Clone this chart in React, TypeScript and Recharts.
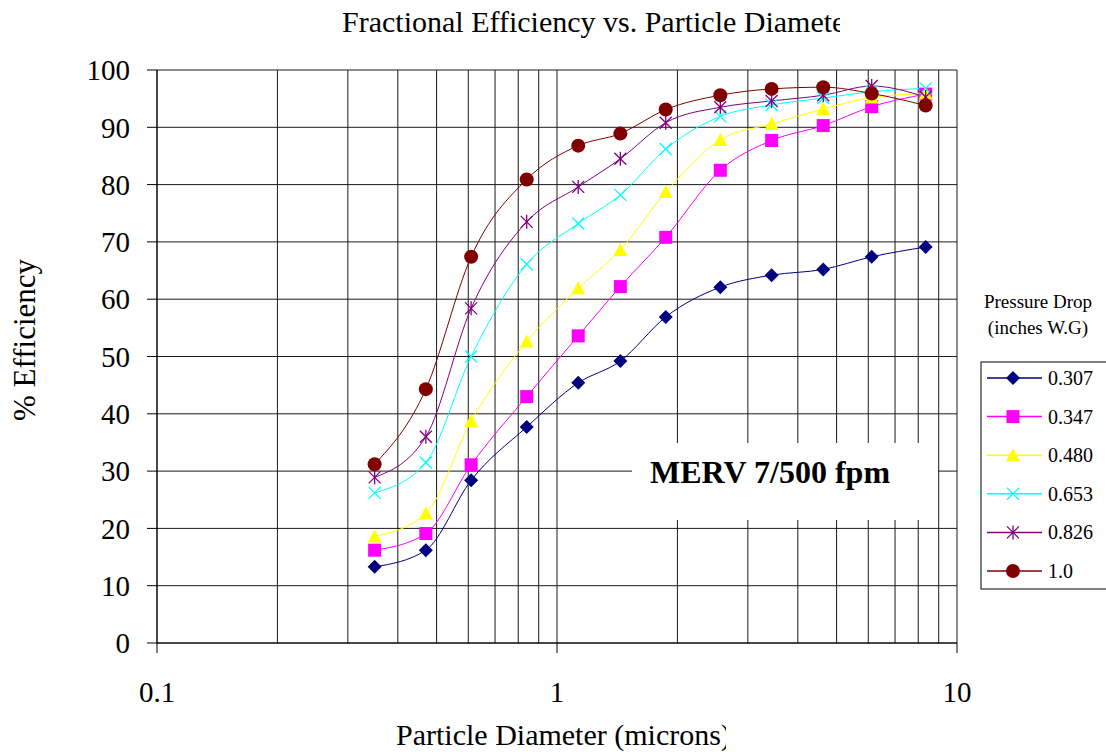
import React from 'react';
import { LineChart, Line, XAxis, YAxis, CartesianGrid } from 'recharts';

// particle size channels (microns)
const sizes = [0.35, 0.47, 0.61, 0.84, 1.13, 1.44, 1.87, 2.56, 3.44, 4.63, 6.12, 8.35];

// % efficiency per pressure drop (inches W.G)
const eff307 = [13.3, 16.2, 28.4, 37.7, 45.4, 49.2, 56.9, 62.1, 64.2, 65.2, 67.4, 69.1];
const eff347 = [16.2, 19.1, 31.1, 43.0, 53.6, 62.2, 70.8, 82.5, 87.7, 90.3, 93.6, 95.8];
const eff480 = [18.6, 22.6, 38.7, 52.6, 61.9, 68.6, 78.7, 87.8, 90.6, 93.2, 95.2, 95.9];
const eff653 = [26.2, 31.5, 50.0, 66.1, 73.2, 78.2, 86.2, 91.9, 93.9, 95.1, 96.2, 96.8];
const eff826 = [28.9, 36.0, 58.4, 73.5, 79.6, 84.5, 90.8, 93.5, 94.6, 95.6, 97.2, 95.3];
const eff100 = [31.2, 44.3, 67.4, 80.9, 86.8, 88.9, 93.1, 95.6, 96.7, 97.0, 95.9, 93.8];

const seriesNames = ['0.307', '0.347', '0.480', '0.653', '0.826', '1.0'];
const seriesColors = ['#000080', '#FF00FF', '#FFFF00', '#00FFFF', '#800080', '#800000'];
const seriesShapes = ['diamond', 'square', 'triangle', 'cross', 'star', 'circle'];
const seriesValues = [eff307, eff347, eff480, eff653, eff826, eff100];

const xTicks = [0.1, 0.2, 0.3, 0.4, 0.5, 0.6, 0.7, 0.8, 0.9, 1, 2, 3, 4, 5, 6, 7, 8, 9, 10];
const xMajor = [0.1, 1, 10];
const yTicks = [0, 10, 20, 30, 40, 50, 60, 70, 80, 90, 100];

const data = sizes.map((d, i) => {
  const row: any = { d };
  seriesNames.forEach((n, k) => { row[n] = seriesValues[k][i]; });
  return row;
});

const FONT = '"Liberation Serif", "Times New Roman", serif';

function Marker({ shape, color, cx, cy }: { shape: string; color: string; cx: number; cy: number }) {
  switch (shape) {
    case 'diamond':
      return <polygon points={`${cx},${cy - 7} ${cx + 7},${cy} ${cx},${cy + 7} ${cx - 7},${cy}`} fill={color} />;
    case 'square':
      return <rect x={cx - 6.5} y={cy - 6.5} width={13} height={13} fill={color} />;
    case 'triangle':
      return <polygon points={`${cx},${cy - 7} ${cx + 7},${cy + 6} ${cx - 7},${cy + 6}`} fill={color} />;
    case 'cross':
      return (
        <g stroke={color} strokeWidth={1.3}>
          <line x1={cx - 6} y1={cy - 6} x2={cx + 6} y2={cy + 6} />
          <line x1={cx - 6} y1={cy + 6} x2={cx + 6} y2={cy - 6} />
        </g>
      );
    case 'star':
      return (
        <g stroke={color} strokeWidth={1.3}>
          <line x1={cx - 6} y1={cy - 6} x2={cx + 6} y2={cy + 6} />
          <line x1={cx - 6} y1={cy + 6} x2={cx + 6} y2={cy - 6} />
          <line x1={cx} y1={cy - 7} x2={cx} y2={cy + 7} />
        </g>
      );
    default:
      return <circle cx={cx} cy={cy} r={7} fill={color} />;
  }
}

const XTick = (props: any) => {
  const { x, y, payload } = props;
  if (!xMajor.includes(payload.value)) return <g />;
  return (
    <g>
      <line x1={x} x2={x} y1={y} y2={y + 10} stroke="#000" />
      <text x={x} y={y + 59} textAnchor="middle" fontSize={29} fontFamily={FONT} fill="#000">
        {payload.value}
      </text>
    </g>
  );
};

export default function App() {
  return (
    <div style={{ position: 'absolute', left: 0, top: 0, width: 1106, height: 752, overflow: 'hidden', background: '#fff' }}>
      <LineChart width={1106} height={752} data={data} margin={{ top: 70, right: 149, bottom: 49, left: 57 }}>
        <CartesianGrid stroke="#1a1a1a" />
        <XAxis
          dataKey="d"
          type="number"
          scale="log"
          domain={[0.1, 10]}
          ticks={xTicks}
          interval={0}
          allowDataOverflow
          height={60}
          stroke="#000"
          tickLine={false}
          tickSize={0}
          tickMargin={0}
          tick={<XTick />}
        />
        <YAxis
          type="number"
          domain={[0, 100]}
          ticks={yTicks}
          interval={0}
          width={100}
          stroke="#000"
          tickSize={10}
          tickMargin={17}
          tick={{ fontSize: 29, fill: '#000', fontFamily: FONT }}
        />
        {seriesNames.map((n, k) => (
          <Line
            key={n}
            dataKey={n}
            type="monotone"
            stroke={seriesColors[k]}
            strokeWidth={1}
            isAnimationActive={false}
            dot={(p: any) => (
              <Marker key={`${n}-${p.index}`} shape={seriesShapes[k]} color={seriesColors[k]} cx={p.cx} cy={p.cy} />
            )}
          />
        ))}
      </LineChart>
      <svg width={1106} height={752} style={{ position: 'absolute', left: 0, top: 0, pointerEvents: 'none' }}>
        <defs>
          <clipPath id="titleClip"><rect x={0} y={0} width={840} height={50} /></clipPath>
          <clipPath id="xlabClip"><rect x={0} y={700} width={726} height={52} /></clipPath>
        </defs>
        <text x={342} y={32} fontSize={30} fontFamily={FONT} fill="#000" clipPath="url(#titleClip)">
          Fractional Efficiency vs. Particle Diameter
        </text>
        <text x={396} y={745} fontSize={30} fontFamily={FONT} fill="#000" clipPath="url(#xlabClip)">
          Particle Diameter (microns)
        </text>
        <text transform="translate(35,340) rotate(-90)" textAnchor="middle" fontSize={31} fontFamily={FONT} fill="#000">
          % Efficiency
        </text>
        <rect x={632} y={443} width={306} height={77} fill="#fff" />
        <text x={650} y={483} fontSize={32} fontWeight="bold" fontFamily={FONT} fill="#000">
          MERV 7/500 fpm
        </text>
        <text x={1038} y={308} textAnchor="middle" fontSize={19} fontFamily={FONT} fill="#000">Pressure Drop</text>
        <text x={1038} y={334} textAnchor="middle" fontSize={19} fontFamily={FONT} fill="#000">(inches W.G)</text>
        <rect x={981} y={362} width={200} height={227} fill="#fff" stroke="#000" />
        {seriesNames.map((n, k) => {
          const cy = 378 + k * 38.6;
          return (
            <g key={n}>
              <line x1={987} x2={1042} y1={cy} y2={cy} stroke={seriesColors[k]} strokeWidth={1.5} />
              <Marker shape={seriesShapes[k]} color={seriesColors[k]} cx={1013} cy={cy} />
              <text x={1048} y={cy + 7} fontSize={20} fontFamily={FONT} fill="#000">{n}</text>
            </g>
          );
        })}
      </svg>
    </div>
  );
}
